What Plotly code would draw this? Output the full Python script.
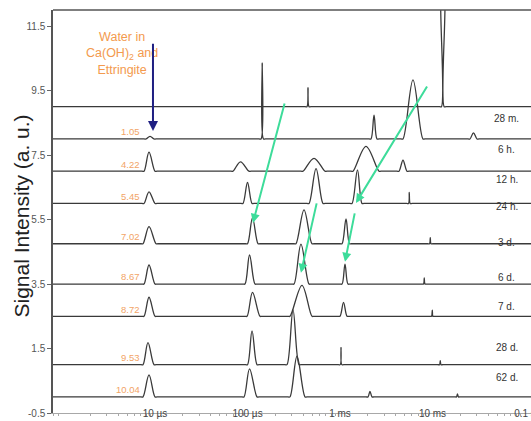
import plotly.graph_objects as go

# NMR T2 relaxation distributions of a hydrating paste, stacked by age.
# Each series: log10(T2 / s) and signal intensity (a. u., stacked with offsets).

ages = ["28 m.", "6 h.", "12 h.", "24 h.", "3 d.", "6 d.", "7 d.", "28 d.", "62 d."]
first_peak_values = [None, "1.05", "4.22", "5.45", "7.02", "8.67", "8.72", "9.53", "10.04"]
baselines = [9.0, 8.0, 7.0, 6.0, 4.75, 3.5, 2.5, 1.0, 0.0]

log_t2_28m = [-6.2, -3.378, -3.357, -3.346, -3.335, -3.314,
              -1.924, -1.903, -1.899, -1.877, -1.874, -1.852, -0.8]
signal_28m = [9.0, 9.0, 9.0, 9.59, 9.0, 9.0,
              9.0, 9.0, 13.0, 13.0, 9.0, 9.0, 9.0]

log_t2_6h = [-6.2,
             -5.119, -5.097, -5.054, -5.011, -4.989,
             -3.876, -3.854, -3.841, -3.827, -3.805,
             -2.686, -2.665, -2.632, -2.600, -2.578,
             -2.341, -2.319, -2.211, -2.103, -2.081,
             -1.616, -1.595, -1.557, -1.519, -1.497,
             -0.8]
signal_6h = [8.0,
             8.0, 8.0, 8.08, 8.0, 8.0,
             8.0, 8.0, 10.35, 8.0, 8.0,
             8.0, 8.0, 8.74, 8.0, 8.0,
             8.0, 8.0, 9.83, 8.0, 8.0,
             8.0, 8.0, 8.19, 8.0, 8.0,
             8.0]

log_t2_12h = [-6.2,
              -5.141, -5.119, -5.065, -5.000, -4.978,
              -4.178, -4.157, -4.076, -3.984, -3.962,
              -3.422, -3.400, -3.281, -3.162, -3.141,
              -2.881, -2.859, -2.719, -2.578, -2.557,
              -2.384, -2.362, -2.319, -2.276, -2.254,
              -0.8]
signal_12h = [7.0,
              7.0, 7.0, 7.59, 7.0, 7.0,
              7.0, 7.0, 7.29, 7.0, 7.0,
              7.0, 7.0, 7.40, 7.0, 7.0,
              7.0, 7.0, 7.77, 7.0, 7.0,
              7.0, 7.0, 7.34, 7.0, 7.0,
              7.0]

log_t2_24h = [-6.2,
              -5.141, -5.119, -5.065, -5.000, -4.978,
              -4.070, -4.049, -4.000, -3.951, -3.930,
              -3.357, -3.335, -3.259, -3.184, -3.162,
              -2.892, -2.870, -2.811, -2.762, -2.741,
              -2.281, -2.259, -2.251, -2.241, -2.219,
              -0.8]
signal_24h = [6.0,
              6.0, 6.0, 6.36, 6.0, 6.0,
              6.0, 6.0, 6.65, 6.0, 6.0,
              6.0, 6.0, 7.08, 6.0, 6.0,
              6.0, 6.0, 7.04, 6.0, 6.0,
              6.0, 6.0, 6.34, 6.0, 6.0,
              6.0]

log_t2_3d = [-6.2,
             -5.151, -5.130, -5.065, -4.989, -4.968,
             -4.022, -4.000, -3.946, -3.886, -3.865,
             -3.497, -3.476, -3.389, -3.303, -3.281,
             -3.000, -2.978, -2.935, -2.897, -2.876,
             -2.054, -2.032, -2.024, -2.016, -1.995,
             -0.8]
signal_3d = [4.75,
             4.75, 4.75, 5.28, 4.75, 4.75,
             4.75, 4.75, 5.55, 4.75, 4.75,
             4.75, 4.75, 5.80, 4.75, 4.75,
             4.75, 4.75, 5.52, 4.75, 4.75,
             4.75, 4.75, 4.94, 4.75, 4.75,
             4.75]

log_t2_6d = [-6.2,
             -5.141, -5.119, -5.065, -5.000, -4.978,
             -4.049, -4.027, -3.978, -3.919, -3.897,
             -3.519, -3.497, -3.422, -3.335, -3.314,
             -3.000, -2.978, -2.946, -2.914, -2.892,
             -2.119, -2.097, -2.089, -2.081, -2.059,
             -0.8]
signal_6d = [3.5,
             3.5, 3.5, 4.09, 3.5, 3.5,
             3.5, 3.5, 4.40, 3.5, 3.5,
             3.5, 3.5, 4.74, 3.5, 3.5,
             3.5, 3.5, 4.12, 3.5, 3.5,
             3.5, 3.5, 3.69, 3.5, 3.5,
             3.5]

log_t2_7d = [-6.2,
             -5.141, -5.119, -5.065, -5.000, -4.978,
             -4.027, -4.005, -3.946, -3.865, -3.843,
             -3.562, -3.541, -3.411, -3.303, -3.281,
             -3.022, -3.000, -2.962, -2.924, -2.903,
             -2.032, -2.011, -2.002, -1.995, -1.973,
             -0.8]
signal_7d = [2.5,
             2.5, 2.5, 3.09, 2.5, 2.5,
             2.5, 2.5, 3.24, 2.5, 2.5,
             2.5, 2.5, 3.46, 2.5, 2.5,
             2.5, 2.5, 2.93, 2.5, 2.5,
             2.5, 2.5, 2.69, 2.5, 2.5,
             2.5]

log_t2_28d = [-6.2,
              -5.151, -5.130, -5.076, -5.011, -4.989,
              -4.022, -4.000, -3.951, -3.897, -3.876,
              -3.595, -3.573, -3.508, -3.443, -3.422,
              -3.018, -2.997, -2.989, -2.981, -2.959,
              -1.946, -1.924, -1.916, -1.908, -1.886,
              -0.8]
signal_28d = [1.0,
              1.0, 1.0, 1.68, 1.0, 1.0,
              1.0, 1.0, 2.05, 1.0, 1.0,
              1.0, 1.0, 2.70, 1.0, 1.0,
              1.0, 1.0, 1.53, 1.0, 1.0,
              1.0, 1.0, 1.12, 1.0, 1.0,
              1.0]

log_t2_62d = [-6.2,
              -5.151, -5.130, -5.065, -5.000, -4.978,
              -4.059, -4.038, -3.978, -3.897, -3.876,
              -3.562, -3.541, -3.465, -3.378, -3.357,
              -2.719, -2.697, -2.676, -2.654, -2.632,
              -1.762, -1.741, -1.730, -1.719, -1.697,
              -0.8]
signal_62d = [0.0,
              0.0, 0.0, 0.68, 0.0, 0.0,
              0.0, 0.0, 0.87, 0.0, 0.0,
              0.0, 0.0, 1.26, 0.0, 0.0,
              0.0, 0.0, 0.17, 0.0, 0.0,
              0.0, 0.0, 0.09, 0.0, 0.0,
              0.0]

series = [
    (log_t2_28m, signal_28m), (log_t2_6h, signal_6h), (log_t2_12h, signal_12h),
    (log_t2_24h, signal_24h), (log_t2_3d, signal_3d), (log_t2_6d, signal_6d),
    (log_t2_7d, signal_7d), (log_t2_28d, signal_28d), (log_t2_62d, signal_62d),
]

x_tick_vals = [1e-5, 1e-4, 1e-3, 1e-2, 1e-1]
x_tick_text = ["10 µs", "100 µs", "1 ms", "10 ms", "0.1 s"]
y_tick_vals = [-0.5, 1.5, 3.5, 5.5, 7.5, 9.5, 11.5]
y_tick_text = ["-0.5", "1.5", "3.5", "5.5", "7.5", "9.5", "11.5"]

SANS = "Liberation Sans, Arial, sans-serif"
LINE_COLOR = "#3a3a3a"
ORANGE = "#f2a466"
GREEN = "#3ddc9a"
NAVY = "#1f1f82"

fig = go.Figure()
for age, (log_t2, signal) in zip(ages, series):
    fig.add_trace(go.Scatter(
        x=[10 ** v for v in log_t2], y=signal, mode="lines", name=age,
        line=dict(color=LINE_COLOR, width=1.3, shape="spline", simplify=False),
        hoverinfo="skip",
    ))

annotations = []

# first-peak values on the left of each distribution
for base, value in zip(baselines, first_peak_values):
    if value is None:
        continue
    annotations.append(dict(
        x=-5.141, y=base + 0.22, xref="x", yref="y", text=value, showarrow=False,
        xanchor="right", yanchor="middle",
        font=dict(family=SANS, size=9.5, color=ORANGE),
    ))

# age labels at the right
age_label_y = [8.62, 7.66, 6.73, 5.92, 4.78, 3.69, 2.79, 1.52, 0.60]
for age, ly in zip(ages, age_label_y):
    annotations.append(dict(
        x=-1.195, y=ly, xref="x", yref="y", text=age, showarrow=False,
        xanchor="center", yanchor="middle",
        font=dict(family=SANS, size=10, color="#333333"),
    ))

# water in Ca(OH)2 and ettringite
annotations.append(dict(
    x=-5.357, y=10.66, xref="x", yref="y",
    text="Water in<br>Ca(OH)<sub>2</sub> and<br>Ettringite", showarrow=False,
    xanchor="center", yanchor="middle",
    font=dict(family=SANS, size=12.5, color="#f39a4e"),
))
annotations.append(dict(
    x=-5.022, y=8.25, ax=-5.022, ay=11.0, xref="x", yref="y", axref="x", ayref="y",
    text="", showarrow=True, arrowhead=2, arrowsize=1.0, arrowwidth=2, arrowcolor=NAVY,
))

# peak shift arrows
shift_arrows = [
    ((-3.595, 9.146), (-3.941, 5.397)),
    ((-2.049, 9.672), (-2.827, 6.017)),
    ((-3.249, 6.048), (-3.422, 3.848)),
    ((-2.838, 5.738), (-2.946, 4.189)),
]
for (tx, ty), (hx, hy) in shift_arrows:
    annotations.append(dict(
        x=hx, y=hy, ax=tx, ay=ty, xref="x", yref="y", axref="x", ayref="y",
        text="", showarrow=True, arrowhead=2, arrowsize=0.9, arrowwidth=2, arrowcolor=GREEN,
    ))

# y-axis title
annotations.append(dict(
    x=-0.0649, y=0.49, xref="paper", yref="paper", text="Signal Intensity (a. u.)",
    showarrow=False, textangle=-90, xanchor="center", yanchor="middle",
    font=dict(family=SANS, size=21, color="#222222"),
))

minor_vals = [k * 10.0 ** e for e in range(-7, 1) for k in range(2, 10)]

fig.update_layout(
    template="none",
    width=531, height=421,
    margin=dict(l=53, r=0, t=10, b=8),
    paper_bgcolor="white", plot_bgcolor="white",
    showlegend=False,
    font=dict(family=SANS, color="#444444"),
    xaxis=dict(
        type="log", range=[-6.103, -0.935],
        tickvals=x_tick_vals, ticktext=x_tick_text,
        showgrid=False, zeroline=False, showline=True,
        linecolor="#a8a8a8", linewidth=1, ticks="",
        ticklabelstandoff=-9,
        ticklabeloverflow="allow",
        tickfont=dict(family=SANS, size=10, color="#444444"),
        minor=dict(tickvals=minor_vals, ticks="outside", ticklen=2,
                   tickcolor="#a8a8a8", showgrid=False),
        automargin=False,
    ),
    yaxis=dict(
        range=[-0.5, 12.0],
        tickvals=y_tick_vals, ticktext=y_tick_text,
        showgrid=False, zeroline=False, showline=True,
        linecolor="#555555", linewidth=1.5,
        ticks="outside", ticklen=4, tickcolor="#666666",
        tickfont=dict(family=SANS, size=10, color="#555555"),
        automargin=False,
    ),
    shapes=[dict(type="line", xref="paper", yref="paper", x0=0, x1=1, y0=1, y1=1,
                 line=dict(color="#555555", width=1.5))],
    annotations=annotations,
)

fig.write_html("out.html")
